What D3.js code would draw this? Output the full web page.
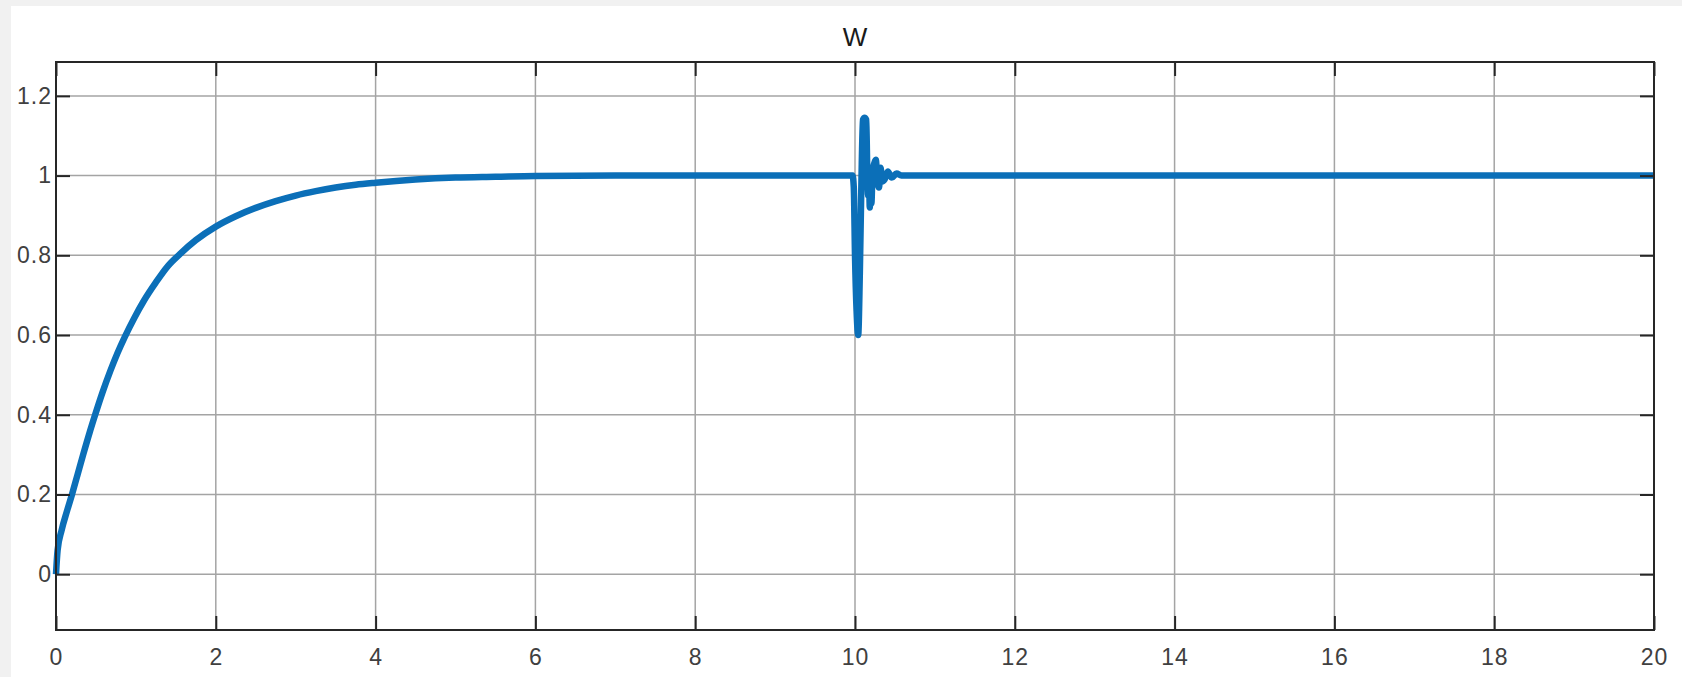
<!DOCTYPE html>
<html>
<head>
<meta charset="utf-8">
<script src="https://cdn.jsdelivr.net/npm/d3@7"></script>
<style>
  html, body { margin: 0; padding: 0; background: #f1f1f1; }
  #chart { position: absolute; left: 11px; top: 6px; width: 1671px; height: 671px; background: #fff; }
  text { font-family: Arial, "Liberation Sans", sans-serif; }
</style>
</head>
<body>
<div id="chart"></div>
<script>
const title = 'W';
const xTicks = [0, 2, 4, 6, 8, 10, 12, 14, 16, 18, 20];
const yTicks = [0, 0.2, 0.4, 0.6, 0.8, 1, 1.2];

// time (s) and speed values
const timeValues = [0, 0.02, 0.07, 0.14, 0.2, 0.27, 0.34, 0.42, 0.49, 0.58, 0.68, 0.77, 0.86, 0.98, 1.1, 1.25, 1.4, 1.55, 1.75, 2.0,
  2.25, 2.5, 2.75, 3.0, 3.25, 3.5, 3.75, 4.0, 4.5, 5.0, 5.5, 6.0, 7.0, 8.0, 9.0, 9.97,
  9.985, 10.0, 10.02, 10.04, 10.06, 10.08, 10.1, 10.12, 10.14, 10.155, 10.165, 10.175, 10.185, 10.195, 10.205, 10.22, 10.24, 10.26, 10.28, 10.3, 10.32, 10.34, 10.37, 10.41, 10.46, 10.52, 10.58, 10.65, 10.75,
  12, 14, 16, 18, 20];
const speedValues = [0, 0.06, 0.11, 0.16, 0.2, 0.25, 0.3, 0.355, 0.4, 0.455, 0.51, 0.555, 0.595, 0.643, 0.686, 0.732, 0.773, 0.803, 0.838, 0.872,
  0.898, 0.919, 0.936, 0.95, 0.961, 0.97, 0.977, 0.982, 0.99, 0.995, 0.997, 0.999, 1.0, 1.0, 1.0, 1.0,
  0.97, 0.8, 0.66, 0.6, 0.75, 0.98, 1.14, 1.145, 1.14, 1.0, 0.95, 1.0, 0.92, 0.99, 0.93, 1.01, 1.03, 1.04, 0.99, 0.97, 1.02, 0.985, 0.99, 1.01, 0.995, 1.005, 1.0, 1.0, 1.0,
  1.0, 1.0, 1.0, 1.0, 1.0];

const data = timeValues.map((t, i) => ({ t: t, w: speedValues[i] }));

const W = 1671, H = 671;
const ox = 11, oy = 6;
const plotLeft = 56 - ox, plotRight = 1654 - ox, plotTop = 62 - oy, plotBottom = 630 - oy;
const axisColor = '#262626';
const tickLen = 14;

const svg = d3.select('#chart').append('svg')
  .attr('width', W)
  .attr('height', H);

const x = d3.scaleLinear().domain([0, 20]).range([plotLeft, plotRight]);
const y = d3.scaleLinear().domain([-0.14, 1.285]).range([plotBottom, plotTop]);

// grid
svg.append('g')
  .selectAll('line')
  .data(xTicks.slice(1, -1))
  .enter()
  .append('line')
  .attr('x1', d => x(d)).attr('x2', d => x(d))
  .attr('y1', plotTop).attr('y2', plotBottom)
  .attr('stroke', '#a4a4a4')
  .attr('stroke-width', 1.5);

svg.append('g')
  .selectAll('line')
  .data(yTicks)
  .enter()
  .append('line')
  .attr('x1', plotLeft).attr('x2', plotRight)
  .attr('y1', d => y(d)).attr('y2', d => y(d))
  .attr('stroke', '#a4a4a4')
  .attr('stroke-width', 1.5);

// data line
svg.append('path')
  .datum(data)
  .attr('fill', 'none')
  .attr('stroke', '#0b6fb8')
  .attr('stroke-width', 6.5)
  .attr('stroke-linejoin', 'round')
  .attr('d', d3.line().curve(d3.curveMonotoneX).x(d => x(d.t)).y(d => y(d.w)));

// axes with inward ticks on all four sides
const xAxis = d3.axisBottom(x).tickValues(xTicks).tickSize(-tickLen).tickPadding(19).tickFormat(d3.format('d'));
const yAxis = d3.axisLeft(y).tickValues(yTicks).tickSize(-tickLen).tickPadding(4).tickFormat(d => d === 0 || d === 1 ? d : d3.format('.1f')(d));

const gx = svg.append('g').attr('transform', 'translate(0,' + plotBottom + ')').call(xAxis);
const gy = svg.append('g').attr('transform', 'translate(' + plotLeft + ',0)').call(yAxis);
const gxTop = svg.append('g').attr('transform', 'translate(0,' + plotTop + ')').call(d3.axisTop(x).tickValues(xTicks).tickSize(-tickLen).tickFormat(''));
const gyRight = svg.append('g').attr('transform', 'translate(' + plotRight + ',0)').call(d3.axisRight(y).tickValues(yTicks).tickSize(-tickLen).tickFormat(''));

[gx, gy, gxTop, gyRight].forEach(g => {
  g.select('.domain').remove();
  g.selectAll('line').attr('stroke', axisColor).attr('stroke-width', 2);
  g.selectAll('text').attr('fill', '#404040').style('font-size', '23px').style('letter-spacing', '1px');
});

// box
svg.append('rect')
  .attr('x', plotLeft).attr('y', plotTop)
  .attr('width', plotRight - plotLeft).attr('height', plotBottom - plotTop)
  .attr('fill', 'none')
  .attr('stroke', axisColor)
  .attr('stroke-width', 2);

svg.append('text')
  .attr('x', (plotLeft + plotRight) / 2)
  .attr('y', 46 - oy)
  .attr('text-anchor', 'middle')
  .attr('fill', '#1a1a1a')
  .style('font-size', '26px')
  .text(title);
</script>
</body>
</html>
